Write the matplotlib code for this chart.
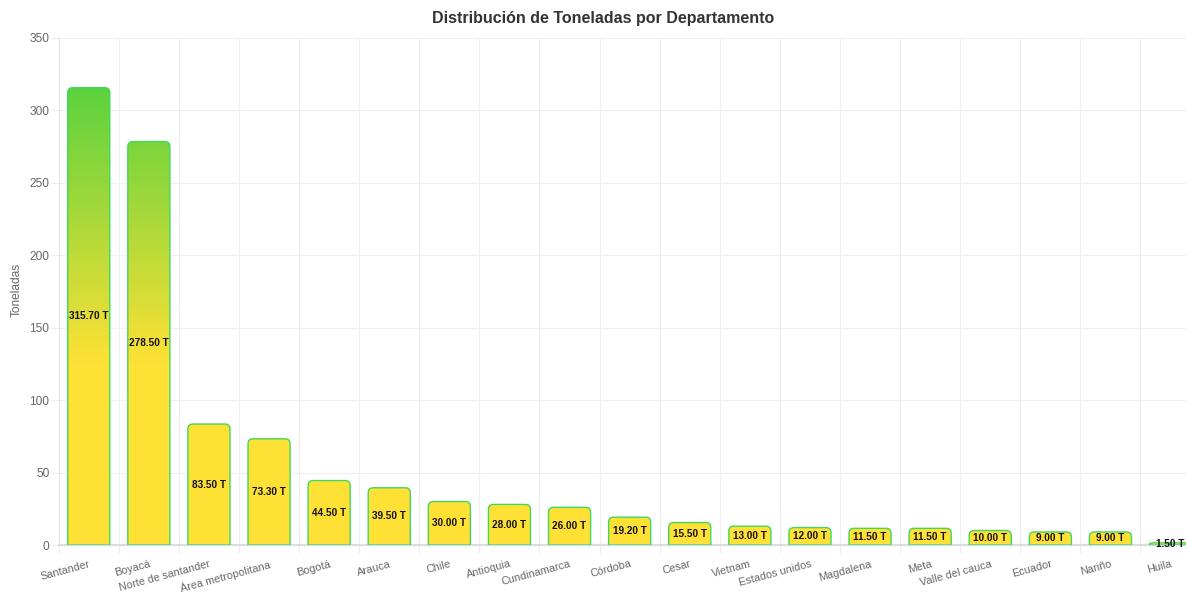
import matplotlib
matplotlib.use("Agg")
import matplotlib.pyplot as plt
import numpy as np
from matplotlib.path import Path
from matplotlib.patches import PathPatch
from matplotlib.colors import LinearSegmentedColormap

plt.rcParams['font.family'] = ['Liberation Sans', 'DejaVu Sans']

# datos
departamentos = ['Santander', 'Boyacá', 'Norte de santander', 'Área metropolitana',
                 'Bogotá', 'Arauca', 'Chile', 'Antioquia', 'Cundinamarca', 'Córdoba',
                 'Cesar', 'Vietnam', 'Estados unidos', 'Magdalena', 'Meta',
                 'Valle del cauca', 'Ecuador', 'Nariño', 'Huila']
toneladas = [315.7, 278.5, 83.5, 73.3, 44.5, 39.5, 30.0, 28.0, 26.0, 19.2,
             15.5, 13.0, 12.0, 11.5, 11.5, 10.0, 9.0, 9.0, 1.5]
y_ticks = [0, 50, 100, 150, 200, 250, 300, 350]

W, H = 1186, 592
fig = plt.figure(figsize=(W / 100, H / 100), dpi=100)
# area del grafico en pixeles (se sale un poco por la derecha, como el original)
left, right, top, bottom = 58.7, 1200.6, 38, 545
ax = fig.add_axes([left / W, (H - bottom) / H, (right - left) / W, (bottom - top) / H])

n = len(departamentos)
x = np.arange(n)
ax.set_xlim(-0.5, n - 0.5)
ax.set_ylim(0, 350)

# px por unidad, para los bordes redondeados
px_x = (right - left) / n
px_y = (bottom - top) / 350.0
rad = 5.0

bars = ax.bar(x, toneladas, width=0.7, color='none', edgecolor='none')
paths = []
for b in bars:
    x0, y0 = b.get_x(), b.get_y()
    w, h = b.get_width(), b.get_height()
    x1, y1 = x0 + w, y0 + h
    ry = min(rad / px_y, h / 2)
    rx = min(rad / px_x, w / 2)
    verts = [(x0, y0), (x0, y1 - ry), (x0, y1), (x0 + rx, y1),
             (x1 - rx, y1), (x1, y1), (x1, y1 - ry), (x1, y0), (x0, y0)]
    codes = [Path.MOVETO, Path.LINETO, Path.CURVE3, Path.CURVE3,
             Path.LINETO, Path.CURVE3, Path.CURVE3, Path.LINETO, Path.CLOSEPOLY]
    p = Path(verts, codes)
    paths.append(p)
    b.remove()

# degradado verde -> amarillo en coordenadas del eje
cmap = LinearSegmentedColormap.from_list('gy', [(0.0, '#ffe135'), (125 / 350, '#ffe135'),
                                                (1.0, '#3ecf40')])
grad = np.linspace(0, 1, 512).reshape(-1, 1)
clip = PathPatch(Path.make_compound_path(*paths), transform=ax.transData,
                 facecolor='none', edgecolor='none')
ax.add_patch(clip)
img = ax.imshow(grad, extent=[-0.5, n - 0.5, 0, 350], origin='lower', cmap=cmap,
                aspect='auto', interpolation='bilinear', zorder=2)
img.set_clip_path(clip)

for p in paths:
    ax.add_patch(PathPatch(p, facecolor='none', edgecolor='#3fd85c', lw=1.0, zorder=3))

for xi, v in zip(x, toneladas):
    ax.text(xi, v / 2, f'{v:.2f} T', ha='center', va='center', fontsize=7.2,
            fontweight='bold', color='#111111', zorder=4)

# ejes y rejilla
ax.set_yticks(y_ticks)
ax.set_xticks(x)
ax.set_xticklabels(departamentos, rotation=15, ha='right', va='top',
                   rotation_mode='anchor')
ax.set_xticks(np.arange(-0.5, n, 1.0), minor=True)
ax.tick_params(axis='x', which='major', length=0, pad=10, labelsize=7.8, labelcolor='#666666')
ax.tick_params(axis='x', which='minor', length=5.8, color='#ececec', width=0.8)
ax.tick_params(axis='y', length=5.8, color='#ececec', width=0.8, pad=1,
               labelsize=8.6, labelcolor='#666666')
ax.grid(axis='y', which='major', color='#efefef', lw=0.8, zorder=0)
ax.grid(axis='x', which='minor', color='#efefef', lw=0.8, zorder=0)
ax.set_axisbelow(True)
for s in ['top', 'right']:
    ax.spines[s].set_visible(False)
ax.spines['left'].set_color('#e6e6e6')
ax.spines['left'].set_linewidth(0.8)
ax.spines['bottom'].set_color('#dddddd')
ax.spines['bottom'].set_linewidth(1.6)

fig.text(17 / W, 1 - 290 / H, 'Toneladas', rotation=90, ha='center', va='center',
         fontsize=8.6, color='#666666')
fig.text(603 / W, 1 - 18 / H, 'Distribución de Toneladas por Departamento',
         ha='center', va='center', fontsize=11.5, fontweight='bold', color='#333333')

fig.savefig('out.png', dpi=100)
